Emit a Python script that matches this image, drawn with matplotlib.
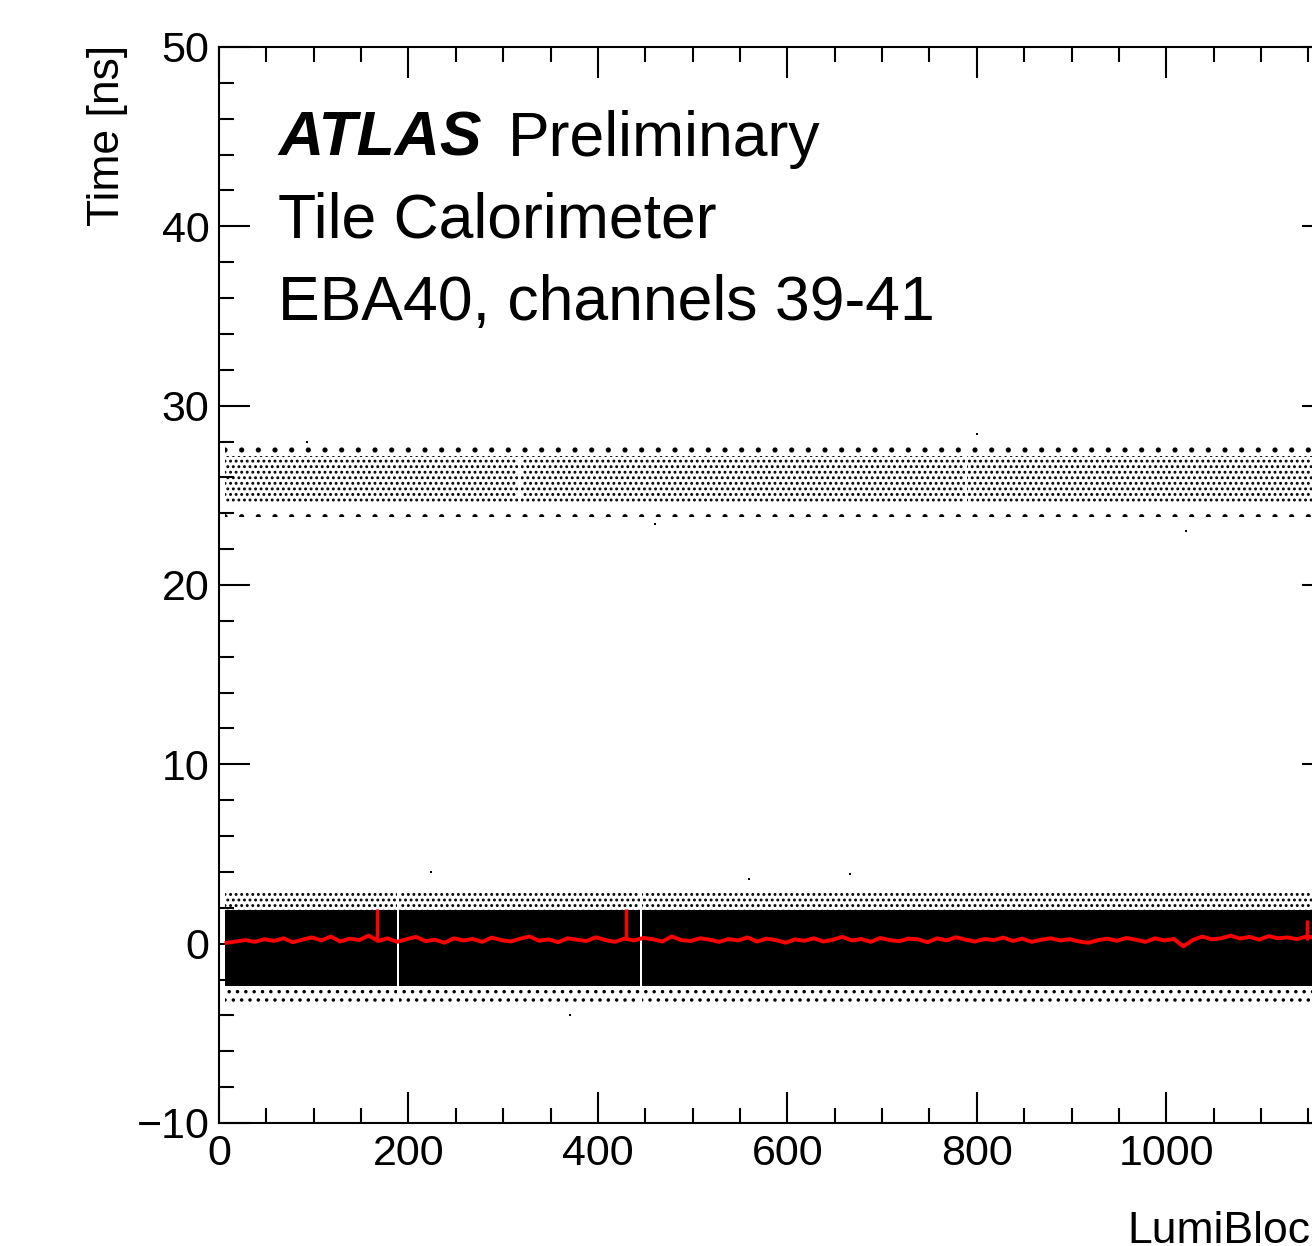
import numpy as np
import matplotlib
matplotlib.use("Agg")
import matplotlib.pyplot as plt

plt.rcParams['font.family'] = ['Liberation Sans', 'DejaVu Sans']
plt.rcParams['hatch.linewidth'] = 1.3

# lumiblock range with data, and gaps seen in the picture
core_segments = [(6, 188), (190, 444), (447, 1180)]
band26_segments = [(6, 316), (319, 787), (790, 1180)]

# main pulse at ~0 ns: dense core and the sparse halo around it (ns)
core_lo, core_hi = -2.35, 1.85
halo = [(1.85, 2.95, '...'), (-3.25, -2.35, '..')]

# out-of-time cloud at ~26 ns (strips of different density)
band26 = [(23.8, 24.5, '.'), (24.5, 27.2, '...'), (27.2, 27.9, '.')]

# isolated points (lumiblock, ns)
out_lb = [224, 666, 371, 460, 1021, 800, 93, 560]
out_t = [4.0, 3.9, -4.0, 23.4, 23.0, 28.4, 28.0, 3.6]

# profile (mean time per lumiblock), red
red_lb = np.arange(8, 1176, 10)
red_t = [0.05, 0.12, 0.20, 0.10, 0.25, 0.15, 0.30, 0.08, 0.22, 0.35,
         0.18, 0.40, 0.12, 0.28, 0.20, 0.45, 0.15, 0.30, 0.10, 0.25,
         0.38, 0.14, 0.22, 0.05, 0.30, 0.18, 0.26, 0.10, 0.34, 0.20,
         0.12, 0.28, 0.40, 0.16, 0.24, 0.08, 0.30, 0.22, 0.15, 0.36,
         0.20, 0.10, 0.28, 0.18, 0.32, 0.25, 0.12, 0.40, 0.20, 0.15,
         0.30, 0.22, 0.10, 0.26, 0.18, 0.35, 0.12, 0.28, 0.20, 0.05,
         0.24, 0.16, 0.30, 0.12, 0.22, 0.38, 0.18, 0.26, 0.10, 0.32,
         0.20, 0.14, 0.28, 0.24, 0.08, 0.30, 0.18, 0.36, 0.22, 0.12,
         0.26, 0.20, 0.34, 0.15, 0.28, 0.10, 0.22, 0.30, 0.18, 0.25,
         0.12, 0.05, 0.20, 0.28, 0.16, 0.32, 0.22, 0.10, 0.30, 0.18,
         0.26, -0.15, 0.20, 0.40, 0.24, 0.30, 0.45, 0.28, 0.38, 0.22,
         0.42, 0.30, 0.35, 0.25, 0.40, 0.32, 0.38]
spike_lb = [167, 430, 1149]
spike_top = [1.95, 1.95, 1.3]

fig = plt.figure(figsize=(13.12, 12.46), dpi=100)
ax = fig.add_axes([219/1312, 1-1123/1246, (1333-219)/1312, (1123-47)/1246])

for a, b in core_segments:
    xs = [a, b]
    ax.fill_between(xs, core_lo, core_hi, color='black', lw=0)
    for lo, hi, h in halo:
        ax.fill_between(xs, lo, hi, facecolor='none', edgecolor='black', hatch=h, lw=0)
for a, b in band26_segments:
    for lo, hi, h in band26:
        ax.fill_between([a, b], lo, hi, facecolor='none', edgecolor='black', hatch=h, lw=0)

ax.plot(out_lb, out_t, 's', color='black', ms=1.5, mew=0)
ax.plot(red_lb, red_t, color='red', lw=2.8)
ax.vlines(spike_lb, 0.2, spike_top, color='red', lw=2.5)

ax.set_xlim(0, 1176)
ax.set_ylim(-10, 50)
ax.set_xticks(np.arange(0, 1177, 200))
ax.set_xticks(np.arange(0, 1177, 50), minor=True)
ax.set_yticks(np.arange(-10, 51, 10))
ax.set_yticks(np.arange(-10, 51, 2), minor=True)
ax.tick_params(which='both', direction='in', top=True, right=True, width=1.5, labelsize=31)
ax.tick_params(which='major', length=22)
ax.tick_params(which='minor', length=11)
ax.tick_params(axis='x', pad=8)
ax.tick_params(axis='y', pad=7)
for s in ax.spines.values():
    s.set_linewidth(1.5)

fig.text(107/1312, 1-45/1246, 'Time [ns]', rotation=90, ha='center', va='top', fontsize=32)
fig.text(1333/1312, 1-1243/1246, 'LumiBlock', ha='right', va='baseline', fontsize=32)

fig.text(278/1312, 1-156/1246, 'ATLAS', fontsize=45, fontweight='bold', fontstyle='italic', va='baseline')
fig.text(508/1312, 1-156/1246, 'Preliminary', fontsize=45, va='baseline')
fig.text(278/1312, 1-238/1246, 'Tile Calorimeter', fontsize=45, va='baseline')
fig.text(278/1312, 1-320/1246, 'EBA40, channels 39-41', fontsize=45, va='baseline')

fig.savefig('out.png', dpi=100)
